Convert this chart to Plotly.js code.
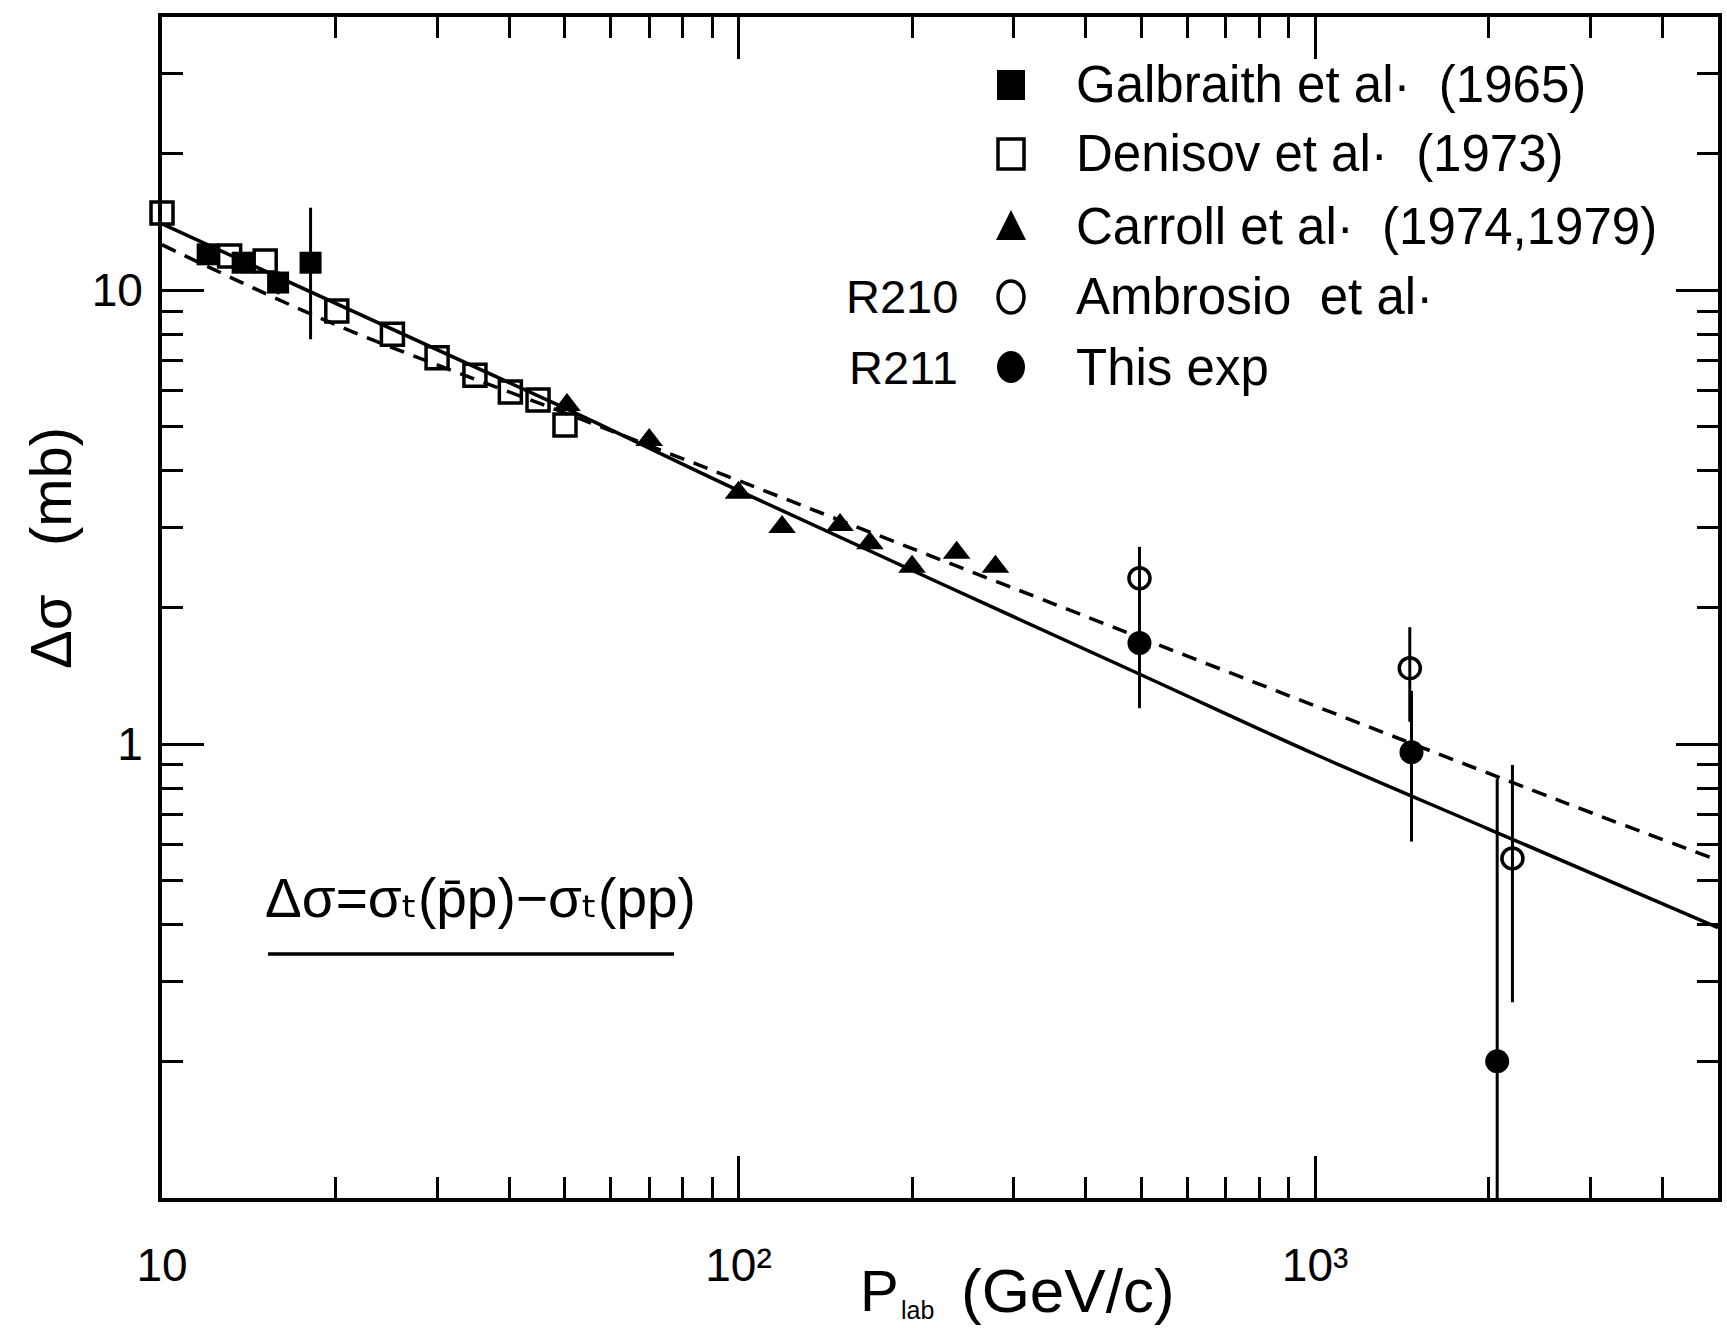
<!DOCTYPE html>
<html>
<head>
<meta charset="utf-8">
<script src="https://cdn.plot.ly/plotly-3.0.1.min.js"></script>
<style>html,body{margin:0;padding:0;background:#fff}</style>
</head>
<body>
<div id="chart" style="width:1727px;height:1328px"></div>
<script>
// Galbraith et al. (1965): filled squares
const galbraithP   = [12.0, 13.8, 15.9, 18.1];
const galbraithDs  = [12.0, 11.5, 10.4, 11.5];
const galbraithErr = [0.6, 0.6, 0.6, 3.7];

// Denisov et al. (1973): open squares
const denisovP  = [10, 13.1, 15.1, 20.1, 25.1, 30.0, 34.9, 40.2, 44.9, 50.0];
const denisovDs = [14.8, 11.9, 11.6, 9.0, 8.0, 7.1, 6.5, 5.97, 5.73, 5.05];

// Carroll et al. (1974, 1979): filled triangles
const carrollP  = [50.4, 70, 100, 119, 150, 169, 200, 239, 279];
const carrollDs = [5.59, 4.68, 3.58, 3.01, 3.04, 2.77, 2.46, 2.64, 2.46];

// R210, Ambrosio et al.: open circles
const r210P       = [496, 1460, 2200];
const r210Ds      = [2.32, 1.47, 0.56];
const r210ErrUp   = [0.40, 0.34, 0.34];
const r210ErrDown = [0.29, 0.35, 0.29];

// R211, this experiment: filled circles
const r211P   = [496, 1470, 2070];
const r211Ds  = [1.67, 0.96, 0.20];
const r211Err = [0.47, 0.35, 0.64];

// fitted curves
const solidP  = [10, 50, 100, 500, 1000, 2000, 5000];
const solidDs = [14.0, 5.5, 3.62, 1.42, 0.95, 0.65, 0.394];
const dashP   = [10, 20, 56.6, 296, 2661, 5000];
const dashDs  = [12.6, 8.4, 5.05, 2.22, 0.75, 0.555];

// axis ticks and labels
const xTickVals = [10, 100, 1000];
const xTickText = ['10', '10²', '10³'];
const yTickVals = [1, 10];
const yTickText = ['1', '10'];
const xDecades = [10, 100, 1000];
const yDecades = [0.1, 1, 10];

const legendLabels   = ['Galbraith et al·  (1965)', 'Denisov et al·  (1973)',
                        'Carroll et al·  (1974,1979)', 'Ambrosio  et al·', 'This exp'];
const legendPrefixes = ['', '', '', 'R210', 'R211'];

const FONT = 'Liberation Sans, DejaVu Sans, Arial, sans-serif';
const INK = '#000';
const NB = '\u00A0';

function minorVals(decades) {
  const v = [];
  decades.forEach(d => { for (let m = 2; m <= 9; m++) v.push(m * d); });
  return v;
}

// plot-area geometry in page pixels
const W = 1727, H = 1328;
const L = 162, R = 1718, T = 17, B = 1198;
const px = x => (x - L) / (R - L);
const py = y => (B - y) / (B - T);

// open symbols take their stroke colour from marker.color
const marker = (symbol, size, open) => ({
  symbol: symbol, size: size, color: INK,
  line: {color: INK, width: open ? 3.5 : 0}
});
const errBar = (arr, minus) => ({
  type: 'data', array: arr, arrayminus: minus || arr, symmetric: !minus,
  color: INK, thickness: 3, width: 0
});

const traces = [
  {x: solidP, y: solidDs, mode: 'lines', line: {color: INK, width: 3.5, shape: 'spline', smoothing: 1}, hoverinfo: 'skip'},
  {x: dashP, y: dashDs, mode: 'lines', line: {color: INK, width: 3.5, dash: '15px,10px', shape: 'spline', smoothing: 1}, hoverinfo: 'skip'},
  {x: denisovP, y: denisovDs, mode: 'markers', name: 'Denisov et al. (1973)', cliponaxis: false,
   marker: marker('square-open', 22, true)},
  {x: galbraithP, y: galbraithDs, mode: 'markers', name: 'Galbraith et al. (1965)',
   marker: marker('square', 22, false), error_y: errBar(galbraithErr)},
  {x: carrollP, y: carrollDs, mode: 'markers', name: 'Carroll et al. (1974,1979)',
   marker: marker('triangle-up', 24, false)},
  {x: r210P, y: r210Ds, mode: 'markers', name: 'Ambrosio et al.',
   marker: marker('circle-open', 21, true), error_y: errBar(r210ErrUp, r210ErrDown)},
  {x: r211P, y: r211Ds, mode: 'markers', name: 'This exp',
   marker: marker('circle', 24, false), error_y: errBar(r211Err)}
];

const axisCommon = {
  type: 'log', showgrid: false, zeroline: false,
  showline: true, linecolor: INK, linewidth: 4, mirror: 'allticks',
  ticks: 'inside', ticklen: 42, tickwidth: 3, tickcolor: INK,
  tickmode: 'array', tickfont: {family: FONT, size: 46, color: INK},
  minor: {ticks: 'inside', ticklen: 21, tickwidth: 3, tickcolor: INK, showgrid: false}
};

const xaxis = Object.assign({}, axisCommon, {
  range: [1, Math.log10(5000)], tickvals: xTickVals, ticktext: xTickText,
  ticklabelstandoff: 24,
  minor: Object.assign({}, axisCommon.minor, {tickmode: 'array', tickvals: minorVals(xDecades)})
});
const yaxis = Object.assign({}, axisCommon, {
  range: [-1, Math.log10(40)], tickvals: yTickVals, ticktext: yTickText,
  ticklabelstandoff: 6,
  minor: Object.assign({}, axisCommon.minor, {tickmode: 'array', tickvals: minorVals(yDecades)})
});

// legend block drawn in the upper right corner
const rowY = [85, 154, 226, 297, 367];
const markX = 1011, textX = 1074, prefixX = 960;
const shapes = [];
const annotations = [];
const note = (text, xPix, yPix, size, xanchor, extra) => Object.assign({
  xref: 'paper', yref: 'paper', x: px(xPix), y: py(yPix),
  xanchor: xanchor, yanchor: 'middle', showarrow: false, text: text,
  font: {family: FONT, size: size, color: INK}
}, extra || {});
const pixShape = (type, yPix, extra) => Object.assign({
  type: type, xref: 'paper', yref: 'paper', xsizemode: 'pixel', ysizemode: 'pixel',
  xanchor: px(markX), yanchor: py(yPix), line: {color: INK, width: 3.5}
}, extra);
shapes.push(pixShape('rect', rowY[0], {x0: -14, x1: 14, y0: -15, y1: 15, fillcolor: INK, line: {width: 0}}));
shapes.push(pixShape('rect', rowY[1], {x0: -13, x1: 13, y0: -15, y1: 15, fillcolor: 'rgba(0,0,0,0)'}));
shapes.push(pixShape('path', rowY[2], {path: 'M -15,-14 L 15,-14 L 0,16 Z', fillcolor: INK, line: {width: 0}}));
shapes.push(pixShape('circle', rowY[3], {x0: -13, x1: 13, y0: -16, y1: 16, fillcolor: 'rgba(0,0,0,0)', line: {color: INK, width: 3.5}}));
shapes.push(pixShape('circle', rowY[4], {x0: -14, x1: 14, y0: -16, y1: 16, fillcolor: INK, line: {width: 0}}));

legendLabels.forEach((t, i) => {
  annotations.push(note(t, textX, rowY[i], 51, 'left'));
  if (legendPrefixes[i]) annotations.push(note(legendPrefixes[i], prefixX, rowY[i], 47, 'right'));
});

// definition of the plotted quantity, underlined
annotations.push(note('Δσ=σₜ(p̄p)−σₜ(pp)', 480, 898, 55, 'center'));
shapes.push({type: 'line', xref: 'paper', yref: 'paper',
  x0: px(268), x1: px(674), y0: py(954), y1: py(954), line: {color: INK, width: 3.5}});

// axis titles
annotations.push(note('Δσ' + NB + NB + NB + '(mb)', 50, 548, 58, 'center', {textangle: -90}));
annotations.push(note('P', 858, 1290, 58, 'left'));
annotations.push(note('lab', 899, 1310, 25, 'left'));
annotations.push(note('(GeV/c)', 1068, 1290, 62, 'center'));

const layout = {
  width: W, height: H,
  margin: {l: L, r: W - R, t: T, b: H - B, pad: 0},
  paper_bgcolor: '#fff', plot_bgcolor: '#fff',
  showlegend: false,
  xaxis: xaxis, yaxis: yaxis,
  shapes: shapes, annotations: annotations,
  font: {family: FONT, color: INK}
};

Plotly.newPlot('chart', traces, layout, {staticPlot: true, displayModeBar: false});
</script>
</body>
</html>
